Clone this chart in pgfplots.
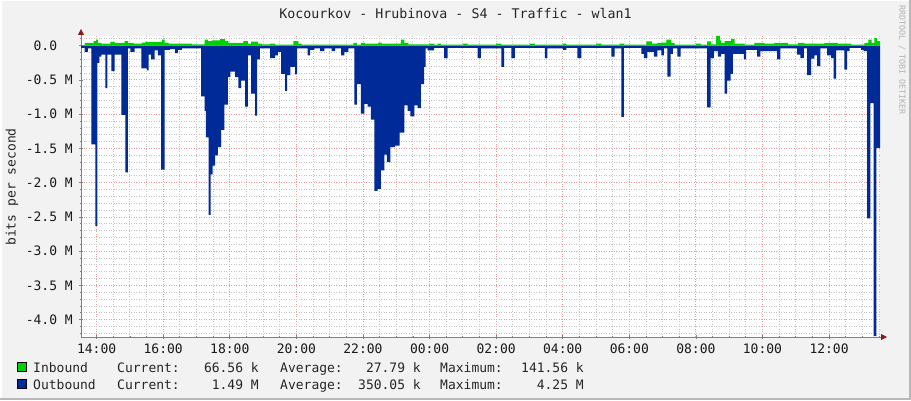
\documentclass[border=0pt]{standalone}
\usepackage{fontspec}
\usepackage{pgfplots}
\pgfplotsset{compat=1.18}
\usepackage{pgfplotstable}
\usetikzlibrary{arrows.meta}
\newfontfamily\mono{DejaVu Sans Mono}
\definecolor{inb}{HTML}{00CF00}
\definecolor{outb}{HTML}{002A97}
\definecolor{bg}{HTML}{F2F2F2}
\definecolor{majg}{HTML}{EE9A9A}
\definecolor{ming}{HTML}{C4C4C4}
\definecolor{axc}{HTML}{808080}
\definecolor{arr}{HTML}{8B1A1A}

% time in hours (24 = 00:00 of the next day), value in Mbit/s
\pgfplotstableread{
t v
13.53 -0.03
13.64 -0.09
13.74 -0.04
13.84 -1.44
13.96 -2.63
14.02 -0.25
14.08 -0.16
14.14 -0.13
14.26 -0.62
14.32 -0.13
14.44 -0.37
14.54 -0.13
14.74 -1.01
14.86 -1.85
14.94 -0.04
15.01 -0.09
15.14 -0.04
15.34 -0.33
15.51 -0.36
15.56 -0.13
15.64 -0.20
15.74 -0.07
15.84 -0.14
15.94 -1.81
16.04 -0.06
16.21 -0.05
16.36 -0.11
16.44 -0.06
16.56 -0.04
17.14 -0.74
17.24 -0.95
17.28 -1.34
17.36 -2.47
17.42 -1.88
17.48 -1.75
17.56 -1.60
17.64 -1.48
17.74 -1.23
17.84 -0.86
17.94 -0.46
18.02 -0.38
18.16 -0.46
18.26 -0.62
18.34 -0.51
18.46 -0.89
18.54 -0.14
18.64 -0.70
18.76 -1.02
18.82 -0.20
18.90 -0.04
19.21 -0.18
19.36 -0.14
19.44 -0.09
19.54 -0.41
19.66 -0.66
19.72 -0.43
19.82 -0.31
19.96 -0.42
20.02 -0.04
20.34 -0.14
20.41 -0.06
20.54 -0.04
20.71 -0.08
20.84 -0.04
21.06 -0.08
21.16 -0.04
21.34 -0.14
21.44 -0.09
21.56 -0.04
21.74 -0.86
21.82 -0.56
21.94 -0.99
22.04 -0.85
22.14 -0.89
22.24 -1.08
22.34 -2.12
22.44 -2.09
22.54 -1.82
22.64 -1.59
22.72 -1.70
22.82 -1.48
22.96 -1.46
23.10 -1.27
23.24 -0.87
23.34 -0.95
23.42 -1.03
23.54 -0.87
23.64 -0.91
23.74 -0.56
23.84 -0.31
23.88 -0.04
23.94 -0.07
24.14 -0.03
24.44 -0.18
24.54 -0.03
25.44 -0.18
25.54 -0.04
26.16 -0.31
26.24 -0.03
26.46 -0.18
26.56 -0.03
27.46 -0.18
27.54 -0.04
28.01 -0.06
28.11 -0.03
28.44 -0.18
28.56 -0.03
29.46 -0.16
29.56 -0.04
29.76 -1.04
29.84 -0.03
30.36 -0.12
30.44 -0.18
30.54 -0.09
30.74 -0.16
30.84 -0.07
30.96 -0.14
31.04 -0.04
31.14 -0.45
31.24 -0.12
31.31 -0.04
31.44 -0.16
31.54 -0.04
32.34 -0.90
32.44 -0.18
32.54 -0.08
32.66 -0.16
32.76 -0.12
32.86 -0.70
32.94 -0.51
33.04 -0.41
33.11 -0.12
33.44 -0.20
33.51 -0.06
33.84 -0.16
33.94 -0.08
34.44 -0.20
34.54 -0.04
35.04 -0.13
35.14 -0.18
35.24 -0.04
35.34 -0.43
35.46 -0.19
35.56 -0.14
35.64 -0.30
35.74 -0.04
35.94 -0.14
36.06 -0.18
36.14 -0.48
36.21 -0.07
36.46 -0.35
36.54 -0.08
36.62 -0.03
36.96 -0.06
37.04 -0.08
37.14 -2.52
37.24 -0.84
37.34 -4.24
37.42 -1.49
37.53 -1.49
}\outbound

\pgfplotstableread{
t v
13.53 0.01
13.64 0.04
13.91 0.068
13.98 0.088
14.04 0.04
14.14 0.03
14.41 0.054
14.54 0.04
14.84 0.068
14.94 0.04
15.11 0.03
15.36 0.045
15.46 0.054
15.96 0.088
16.04 0.04
16.16 0.03
16.86 0.02
17.24 0.088
17.34 0.068
17.46 0.078
17.71 0.097
17.86 0.068
17.96 0.04
18.41 0.068
18.54 0.03
18.64 0.06
18.84 0.03
18.96 0.02
19.21 0.03
19.36 0.015
19.91 0.068
20.06 0.03
20.16 0.015
21.71 0.04
21.82 0.015
21.94 0.04
22.06 0.03
22.46 0.044
22.56 0.03
23.14 0.09
23.24 0.04
23.36 0.02
24.01 0.03
24.14 0.015
24.24 0.03
24.34 0.015
25.01 0.03
25.14 0.015
26.01 0.03
26.16 0.015
27.01 0.03
27.16 0.015
28.01 0.03
28.11 0.015
29.01 0.03
29.16 0.015
29.71 0.03
29.84 0.015
30.51 0.063
30.68 0.03
30.84 0.04
30.96 0.044
31.11 0.088
31.26 0.04
31.36 0.015
32.01 0.03
32.16 0.015
32.34 0.063
32.46 0.02
32.61 0.1416
32.72 0.078
32.76 0.04
32.86 0.068
33.06 0.10
33.16 0.03
33.46 0.015
33.76 0.04
34.06 0.03
34.36 0.04
34.76 0.02
35.06 0.04
35.26 0.03
35.86 0.04
36.26 0.03
36.66 0.015
37.06 0.04
37.18 0.088
37.28 0.04
37.36 0.11
37.44 0.067
37.53 0.067
}\inbound

\begin{document}
\begin{tikzpicture}[x=1pt,y=1pt]
\useasboundingbox (0,0) rectangle (911,400);
\fill[bg] (0,0) rectangle (911,400);
\draw[white, line width=1.5pt] (0.75,0) -- (0.75,399.25) -- (911,399.25);
\draw[black!28, line width=2pt] (0,1) -- (910,1) -- (910,400);
\begin{axis}[
  at={(81pt,63pt)}, anchor=south west,
  scale only axis, width=799pt, height=301pt,
  xmin=13.53, xmax=37.53, ymin=-4.2525, ymax=0.1416,
  axis background/.style={fill=white},
  axis lines=left,
  axis line style={axc, line width=0.8pt},
  x axis line style={-{Triangle[color=arr,length=6pt,width=6pt]}, shorten >=-7pt},
  y axis line style={-{Triangle[color=arr,length=6pt,width=6pt]}, shorten >=-7pt},
  xtick={14,16,18,20,22,24,26,28,30,32,34,36},
  xticklabels={14:00,16:00,18:00,20:00,22:00,00:00,02:00,04:00,06:00,08:00,10:00,12:00},
  minor xtick={14.5,15,15.5,16.5,17,17.5,18.5,19,19.5,20.5,21,21.5,22.5,23,23.5,24.5,25,25.5,26.5,27,27.5,28.5,29,29.5,30.5,31,31.5,32.5,33,33.5,34.5,35,35.5,36.5,37,37.5},
  ytick={-4,-3.5,-3,-2.5,-2,-1.5,-1,-0.5,0},
  yticklabels={-4.0 M,-3.5 M,-3.0 M,-2.5 M,-2.0 M,-1.5 M,-1.0 M,-0.5 M,0.0\phantom{\ M}},
  minor ytick={-4.2,-4.1,-3.9,-3.8,-3.7,-3.6,-3.4,-3.3,-3.2,-3.1,-2.9,-2.8,-2.7,-2.6,-2.4,-2.3,-2.2,-2.1,-1.9,-1.8,-1.7,-1.6,-1.4,-1.3,-1.2,-1.1,-0.9,-0.8,-0.7,-0.6,-0.4,-0.3,-0.2,-0.1,0.1},
  grid=both,
  major grid style={majg, line width=0.9pt, dash pattern=on 1pt off 1.5pt},
  minor grid style={ming, line width=0.9pt, dash pattern=on 1pt off 1.5pt},
  tick align=center, major tick length=4pt, minor tick length=2pt,
  tick style={axc, line width=0.8pt},
  tick label style={font=\mono\fontsize{13}{15}\selectfont, text=black!90},
  xticklabel style={anchor=north, inner sep=0pt, yshift=-5pt},
  yticklabel style={anchor=east, inner sep=0pt, xshift=-6pt},
  clip=true,
]
\addplot[const plot, fill=outb, draw=none] table[x=t, y=v] {\outbound} \closedcycle;
\addplot[const plot, fill=inb, draw=none] table[x=t, y=v] {\inbound} \closedcycle;
\end{axis}
% title and labels
\node[font=\mono\fontsize{13.3}{15}\selectfont, text=black!85] at (455.5,386) {Kocourkov - Hrubinova - S4 - Traffic - wlan1};
\node[font=\mono\fontsize{13}{15}\selectfont, text=black!85, rotate=90] at (12,213) {bits per second};
\node[font=\mono\fontsize{8.3}{10}\selectfont, text=black!30, rotate=-90] at (902,340) {RRDTOOL / TOBI OETIKER};
% legend
\filldraw[fill=inb, draw=black, line width=0.6pt] (17.5,28.5) rectangle (26.5,37.5);
\filldraw[fill=outb, draw=black, line width=0.6pt] (17.5,11.5) rectangle (26.5,20.5);
\begin{scope}[every node/.style={font=\mono\fontsize{13}{15}\selectfont, text=black!85, inner sep=0pt}]
\node[anchor=base west] at (33,28) {Inbound};
\node[anchor=base west] at (117,28) {Current:};
\node[anchor=base east] at (259,28) {66.56 k};
\node[anchor=base west] at (280,28) {Average:};
\node[anchor=base east] at (421,28) {27.79 k};
\node[anchor=base west] at (440,28) {Maximum:};
\node[anchor=base east] at (584,28) {141.56 k};
\node[anchor=base west] at (33,11) {Outbound};
\node[anchor=base west] at (117,11) {Current:};
\node[anchor=base east] at (259,11) {1.49 M};
\node[anchor=base west] at (280,11) {Average:};
\node[anchor=base east] at (421,11) {350.05 k};
\node[anchor=base west] at (440,11) {Maximum:};
\node[anchor=base east] at (584,11) {4.25 M};
\end{scope}
\end{tikzpicture}
\end{document}
